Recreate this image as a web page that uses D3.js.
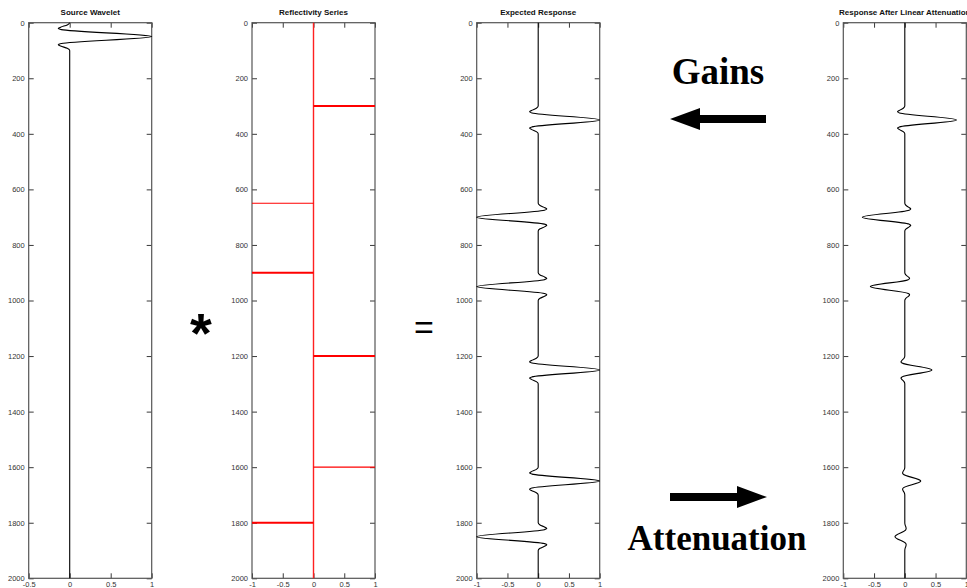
<!DOCTYPE html>
<html><head><meta charset="utf-8">
<script src="https://cdn.jsdelivr.net/npm/d3@7"></script>
<style>body{margin:0;background:#fff;overflow:hidden}svg{display:block}</style>
</head><body><svg id="c" width="967" height="588"></svg>
<script>
// ---- data ----
const depthTicks = [0,200,400,600,800,1000,1200,1400,1600,1800,2000];
const waveletTicks = [-0.5,0,0.5,1];
const traceTicks = [-1,-0.5,0,0.5,1];
const panelTitles = ["Source Wavelet","Reflectivity Series","Expected Response","Response After Linear Attenuation"];

const waveletDepth = [0,8,16,21,25,50,75,79,84,92,100,2000];
const waveletAmp   = [0,-0.03,-0.11,-0.14,-0.10,1,-0.10,-0.14,-0.11,-0.03,0,0];

const reflDepth = [300,650,900,1200,1600,1800];
const reflValue = [1,-1,-1,1,1,-1];

const responseDepth = [0,
  300,308,316,321,325,350,375,379,384,392,400,
  650,658,666,671,675,700,725,729,734,742,750,
  900,908,916,921,925,950,975,979,984,992,1000,
  1200,1208,1216,1221,1225,1250,1275,1279,1284,1292,1300,
  1600,1608,1616,1621,1625,1650,1675,1679,1684,1692,1700,
  1800,1808,1816,1821,1825,1850,1875,1879,1884,1892,1900,
  2000];
const expectedAmp = [0,
  0,-0.03,-0.11,-0.14,-0.10,1,-0.10,-0.14,-0.11,-0.03,0,
  0,0.03,0.11,0.14,0.10,-1,0.10,0.14,0.11,0.03,0,
  0,0.03,0.11,0.14,0.10,-1,0.10,0.14,0.11,0.03,0,
  0,-0.03,-0.11,-0.14,-0.10,1,-0.10,-0.14,-0.11,-0.03,0,
  0,-0.03,-0.11,-0.14,-0.10,1,-0.10,-0.14,-0.11,-0.03,0,
  0,0.03,0.11,0.14,0.10,-1,0.10,0.14,0.11,0.03,0,
  0];
const attenuatedAmp = [0,
  0,-0.025,-0.092,-0.118,-0.084,0.84,-0.084,-0.118,-0.092,-0.025,0,
  0,0.021,0.076,0.097,0.069,-0.69,0.069,0.097,0.076,0.021,0,
  0,0.017,0.062,0.078,0.056,-0.56,0.056,0.078,0.062,0.017,0,
  0,-0.013,-0.048,-0.062,-0.044,0.44,-0.044,-0.062,-0.048,-0.013,0,
  0,-0.008,-0.029,-0.036,-0.026,0.26,-0.026,-0.036,-0.029,-0.008,0,
  0,0.005,0.018,0.022,0.016,-0.16,0.016,0.022,0.018,0.005,0,
  0];

// ---- layout ----
const svg = d3.select("#c");
const plotTop = 22.7, plotBottom = 578.3, pw = 123;
const lefts = [28.7, 252, 476.7, 843.3];
const y = d3.scaleLinear().domain([0,2000]).range([plotTop,plotBottom]);
const fontAx = "'Liberation Sans', Arial, sans-serif";

function panel(i, xDomain, xTicks) {
  const x = d3.scaleLinear().domain(xDomain).range([lefts[i], lefts[i]+pw]);
  const g = svg.append("g");
  const axStyle = sel => {
    sel.select(".domain").remove();
    sel.selectAll("line").attr("stroke","#222").attr("stroke-width",0.9);
    sel.selectAll("text").attr("fill","#333").attr("font-size",7.5).attr("font-family",fontAx);
  };
  g.append("g").attr("transform",`translate(${lefts[i]},0)`)
    .call(d3.axisLeft(y).tickValues(depthTicks).tickSize(-5).tickPadding(4).tickFormat(d=>String(d))).call(axStyle);
  g.append("g").attr("transform",`translate(${lefts[i]+pw},0)`)
    .call(d3.axisRight(y).tickValues(depthTicks).tickSize(-5).tickFormat("")).call(axStyle);
  g.append("g").attr("transform",`translate(0,${plotBottom})`)
    .call(d3.axisBottom(x).tickValues(xTicks).tickSize(-5).tickPadding(3).tickFormat(d=>String(d))).call(axStyle);
  g.append("g").attr("transform",`translate(0,${plotTop})`)
    .call(d3.axisTop(x).tickValues(xTicks).tickSize(-5).tickFormat("")).call(axStyle);
  g.append("rect").attr("x",lefts[i]).attr("y",plotTop).attr("width",pw).attr("height",plotBottom-plotTop)
    .attr("fill","none").attr("stroke","#555").attr("stroke-width",1.2);
  g.append("text").attr("x",lefts[i]+pw/2).attr("y",15).attr("text-anchor","middle")
    .attr("font-family",fontAx).attr("font-weight","bold").attr("font-size",8).attr("fill","#111")
    .text(panelTitles[i]);
  return {g,x};
}

function trace(p, depths, amps) {
  const pts = depths.map((d,k)=>({d, v:amps[k]}));
  const line = d3.line().x(q=>p.x(q.v)).y(q=>y(q.d)).curve(d3.curveMonotoneY);
  p.g.append("path").datum(pts).attr("d",line).attr("fill","none")
    .attr("stroke","#000").attr("stroke-width",1.1);
}

const p1 = panel(0, [-0.5,1], waveletTicks);
trace(p1, waveletDepth, waveletAmp);

const p2 = panel(1, [-1,1], traceTicks);
p2.g.append("line").attr("x1",p2.x(0)).attr("x2",p2.x(0)).attr("y1",y(0)).attr("y2",y(2000))
  .attr("stroke","#ff2020").attr("stroke-width",1.4);
p2.g.selectAll(".refl").data(reflDepth).enter().append("line")
  .attr("x1",p2.x(0)).attr("x2",(d,k)=>p2.x(reflValue[k]))
  .attr("y1",d=>y(d)).attr("y2",d=>y(d))
  .attr("stroke","#ff0000").attr("stroke-width",(d,k)=>(k===1||k===4)?1.2:2);

const p3 = panel(2, [-1,1], traceTicks);
trace(p3, responseDepth, expectedAmp);

const p4 = panel(3, [-1,1], traceTicks);
trace(p4, responseDepth, attenuatedAmp);

// ---- operators and annotations ----
svg.append("text").attr("x",201).attr("y",352).attr("text-anchor","middle")
  .attr("font-family",fontAx).attr("font-weight","bold").attr("font-size",56).text("*");
svg.append("text").attr("x",424).attr("y",339).attr("text-anchor","middle")
  .attr("font-family",fontAx).attr("font-size",34).text("=");

const serif = "'Liberation Serif', 'Times New Roman', serif";
svg.append("text").attr("x",718).attr("y",84).attr("text-anchor","middle")
  .attr("font-family",serif).attr("font-weight","bold").attr("font-size",37).text("Gains");
svg.append("text").attr("x",717).attr("y",550).attr("text-anchor","middle")
  .attr("font-family",serif).attr("font-weight","bold").attr("font-size",35).text("Attenuation");

function arrow(x0, x1, yc) { // x0 tail, x1 tip
  const dir = Math.sign(x1-x0), hl = 30, hh = 11, sh = 4;
  const hb = x1 - dir*hl;
  const pts = [[x0,yc-sh],[hb,yc-sh],[hb,yc-hh],[x1,yc],[hb,yc+hh],[hb,yc+sh],[x0,yc+sh]];
  svg.append("path").attr("d", d3.line()(pts)+"Z").attr("fill","#000");
}
arrow(766, 670, 119);
arrow(670, 767, 497);
</script></body></html>
